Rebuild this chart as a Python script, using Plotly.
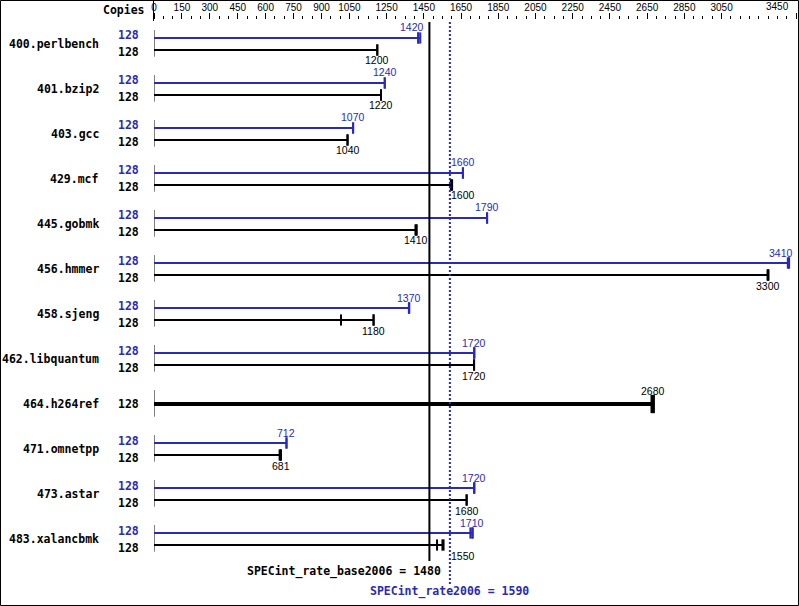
import plotly.graph_objects as go

# ---------------- data ----------------
benchmarks = ["400.perlbench", "401.bzip2", "403.gcc", "429.mcf", "445.gobmk",
              "456.hmmer", "458.sjeng", "462.libquantum", "464.h264ref",
              "471.omnetpp", "473.astar", "483.xalancbmk"]
base_copies = [128, 128, 128, 128, 128, 128, 128, 128, 128, 128, 128, 128]
peak_copies = [128, 128, 128, 128, 128, 128, 128, 128, None, 128, 128, 128]
base_ratio = [1200, 1220, 1040, 1600, 1410, 3300, 1180, 1720, 2680, 681, 1680, 1550]
peak_ratio = [1420, 1240, 1070, 1660, 1790, 3410, 1370, 1720, None, 712, 1720, 1710]
# individual run results (extra tick marks on the bars)
base_runs = [[1200], [1220], [1040], [1595, 1602], [1405, 1411], [3297, 3302],
             [1005, 1180], [1720], [2680], [675, 682], [1680], [1521, 1556]]
peak_runs = [[1420, 1431], [1240], [1070], [1660], [1790], [3406, 3413],
             [1370, 1372], [1720, 1722], [], [712], [1720, 1722], [1700, 1713]]
tick_vals = [0, 150, 300, 450, 600, 750, 900, 1050, 1250, 1450, 1650, 1850,
             2050, 2250, 2450, 2650, 2850, 3050, 3450]
base_mean = 1480
peak_mean = 1590
base_label = "SPECint_rate_base2006 = 1480"
peak_label = "SPECint_rate2006 = 1590"

# ---------------- layout constants ----------------
W, H = 799, 606
X0, X1 = 154, 796
XMAX = 3450
K = (X1 - X0) / XMAX
TOP = 20
PITCH = 45
C0 = 44
OFF = 6
BLUE = "#2a2ab4"
BLACK = "#000000"
MONO = "DejaVu Sans Mono"
SANS = "Liberation Sans"


def py2y(py):
    return (py - C0) / PITCH


def xpx(v):
    return X0 + v * K


fig = go.Figure()
ann = []


def bar(y, value, runs, color, width, capsize, label, label_dir):
    xs = runs + [value] if runs else [value]
    xmax = max(xs)
    fig.add_trace(go.Scatter(x=[0, xmax], y=[y, y], mode="lines",
                             line=dict(color=color, width=width),
                             hoverinfo="skip", showlegend=False, cliponaxis=False))
    fig.add_trace(go.Scatter(x=xs, y=[y] * len(xs), mode="markers",
                             marker=dict(symbol="line-ns", size=capsize,
                                         line=dict(color=color, width=width)),
                             hoverinfo="skip", showlegend=False, cliponaxis=False))
    # label position with collision avoidance
    c = xpx(value)
    hw = 11.5
    shift = 0
    if label_dir > 0:  # above (peak)
        if c - hw < xpx(base_mean) < c + hw:
            shift = (xpx(base_mean) - 6 - hw) - c
    else:
        if c - hw < xpx(peak_mean) < c + hw:
            shift = (xpx(peak_mean) + 1.5 + hw) - c
    if c + shift + hw > W - 7:
        shift = (W - 7 - hw) - c
    ann.append(dict(x=value, y=y, xref="x", yref="y", text=label, showarrow=False,
                    xanchor="center", yanchor="middle", xshift=shift, borderpad=0,
                    yshift=10.5 * label_dir if width <= 2 else 13,
                    font=dict(family=SANS, size=10.5, color=color)))


for i, name in enumerate(benchmarks):
    has_peak = peak_ratio[i] is not None
    yb = i + OFF / PITCH if has_peak else i
    yp = i - OFF / PITCH
    # group start line
    fig.add_trace(go.Scatter(x=[0, 0], y=[i - 14 / PITCH, i + 12.7 / PITCH], mode="lines",
                             line=dict(color=BLACK, width=1), hoverinfo="skip",
                             showlegend=False, cliponaxis=False))
    if has_peak:
        bar(yp, peak_ratio[i], peak_runs[i], BLUE, 2, 8, str(peak_ratio[i]), 1)
        bar(yb, base_ratio[i], base_runs[i], BLACK, 2, 8, str(base_ratio[i]), -1)
        ann.append(dict(x=141 / W, y=yp, xref="paper", yref="y", text=str(peak_copies[i]),
                        showarrow=False, xanchor="right", yanchor="middle", yshift=2.5,
                        font=dict(family=MONO, size=11.5, color=BLUE, weight="bold")))
        ann.append(dict(x=141 / W, y=yb, xref="paper", yref="y", text=str(base_copies[i]),
                        showarrow=False, xanchor="right", yanchor="middle", yshift=-2.5,
                        font=dict(family=MONO, size=11.5, color=BLACK, weight="bold")))
    else:
        bar(yb, base_ratio[i], base_runs[i], BLACK, 4, 13, str(base_ratio[i]), 1)
        ann.append(dict(x=141 / W, y=yb, xref="paper", yref="y", text=str(base_copies[i]),
                        showarrow=False, xanchor="right", yanchor="middle",
                        font=dict(family=MONO, size=11.5, color=BLACK, weight="bold")))
    ann.append(dict(x=101 / W, y=i, xref="paper", yref="y", text=name, showarrow=False,
                    xanchor="right", yanchor="middle",
                    font=dict(family=MONO, size=11.5, color=BLACK, weight="bold")))

# mean lines
shapes = [
    dict(type="line", xref="x", yref="y", x0=base_mean, x1=base_mean,
         y0=py2y(22), y1=py2y(561), line=dict(color=BLACK, width=2)),
    dict(type="line", xref="x", yref="y", x0=peak_mean, x1=peak_mean,
         y0=py2y(22), y1=py2y(584), line=dict(color=BLUE, width=2, dash="2px,2px")),
    # border
    dict(type="rect", xref="paper", yref="paper", x0=0.5 / W, x1=(W - 0.5) / W,
         y0=0.5 / H, y1=1 - 0.5 / H, line=dict(color=BLACK, width=1)),
    # header separator
    dict(type="line", xref="paper", yref="paper", x0=153.5 / W, x1=153.5 / W,
         y0=1 - 21 / H, y1=1, line=dict(color=BLACK, width=1)),
]

ann.append(dict(x=base_mean, y=py2y(571), xref="x", yref="y", text=base_label,
                showarrow=False, xanchor="right", yanchor="middle", xshift=14,
                font=dict(family=MONO, size=11.5, color=BLACK, weight="bold")))
ann.append(dict(x=peak_mean, y=py2y(591), xref="x", yref="y", text=peak_label,
                showarrow=False, xanchor="center", yanchor="middle",
                font=dict(family=MONO, size=11.5, color=BLUE, weight="bold")))
ann.append(dict(x=147 / W, y=1 - 10 / H, xref="paper", yref="paper", text="Copies",
                showarrow=False, xanchor="right", yanchor="middle",
                font=dict(family=MONO, size=11.5, color=BLACK, weight="bold")))
# last tick label sits left of its tick (as in the reference)
ann.append(dict(x=tick_vals[-1], y=1 - 7 / H, xref="x", yref="paper", text=str(tick_vals[-1]),
                showarrow=False, xanchor="right", yanchor="middle", xshift=-5,
                font=dict(family=SANS, size=10, color=BLACK)))

minor_vals = [v for v in range(0, XMAX + 1, 50) if v not in tick_vals]
tick_text = [str(v) for v in tick_vals[:-1]] + [""]

fig.update_layout(
    width=W, height=H, autosize=False,
    margin=dict(l=0, r=0, t=0, b=0),
    paper_bgcolor="white", plot_bgcolor="white",
    shapes=shapes, annotations=ann,
    xaxis=dict(domain=[X0 / W, X1 / W], range=[0, XMAX], side="top",
               tickmode="array", tickvals=tick_vals, ticktext=tick_text,
               ticks="outside", ticklen=6, tickwidth=1, tickcolor=BLACK,
               tickfont=dict(family=SANS, size=10, color=BLACK),
               ticklabeloverflow="allow", ticklabelstandoff=-2,
               showgrid=False, zeroline=False, showline=False, automargin=False,
               fixedrange=True,
               minor=dict(tickmode="array", tickvals=minor_vals, ticks="outside",
                          ticklen=3, tickwidth=1, tickcolor=BLACK, showgrid=False)),
    yaxis=dict(domain=[0, (H - TOP) / H], range=[py2y(H), py2y(TOP)],
               visible=False, showgrid=False, zeroline=False, automargin=False,
               fixedrange=True),
)

fig.write_html("out.html", config={"displayModeBar": False},
               post_script="document.body.style.margin='0';document.body.style.overflow='hidden';")
